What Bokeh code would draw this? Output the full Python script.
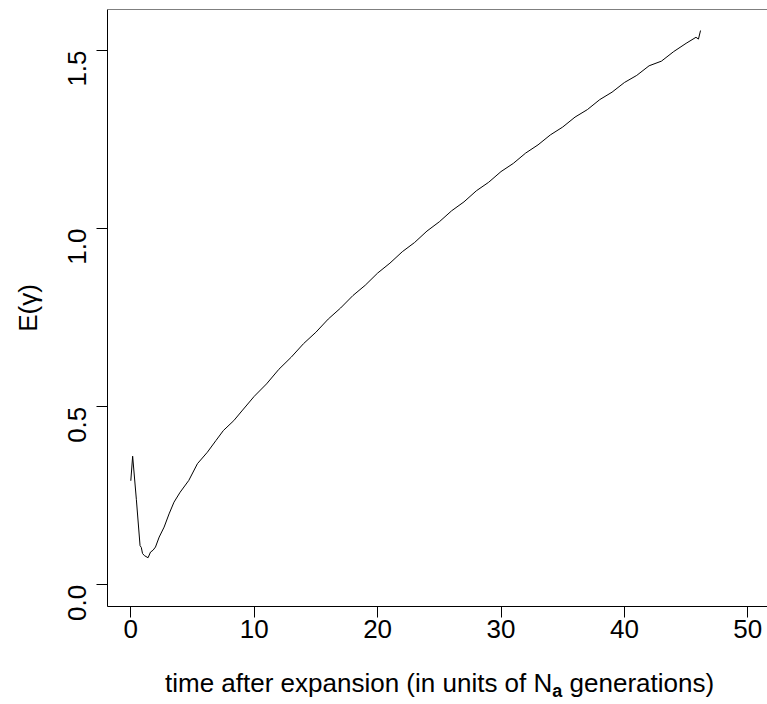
import math
from bokeh.plotting import figure
from bokeh.models import FixedTicker, Span, Range1d, Div
from bokeh.layouts import column
from bokeh.embed import file_html
from bokeh.resources import INLINE

# ---- data ----
time = [0.0, 0.15, 0.45, 0.75, 0.85, 0.95, 1.1, 1.4, 1.6, 1.8, 2.0, 2.3, 2.7, 3.1,
        3.5, 4.0, 4.7, 5.4, 6.2, 6.9, 7.5, 8.35, 9.0, 10.0, 11.0, 12.0, 13.0, 14.0,
        15.0, 16.0, 17.0, 18.0, 19.0, 20.0, 21.0, 22.0, 23.0, 24.0, 25.0, 26.0,
        27.0, 28.0, 29.0, 30.0, 31.0, 32.0, 33.0, 34.0, 35.0, 36.0, 37.0, 38.0,
        39.0, 40.0, 41.0, 42.0, 43.0, 44.0, 45.0, 45.8, 46.0, 46.17]
e_gamma = [0.292, 0.361, 0.240, 0.110, 0.105, 0.088, 0.082, 0.076, 0.092, 0.097,
           0.106, 0.134, 0.162, 0.199, 0.232, 0.260, 0.293, 0.340, 0.372, 0.405,
           0.433, 0.461, 0.488, 0.529, 0.564, 0.605, 0.639, 0.677, 0.709, 0.746,
           0.777, 0.812, 0.841, 0.875, 0.903, 0.935, 0.961, 0.993, 1.019, 1.050,
           1.075, 1.106, 1.130, 1.160, 1.183, 1.212, 1.235, 1.263, 1.285, 1.313,
           1.334, 1.362, 1.383, 1.410, 1.430, 1.457, 1.470, 1.497, 1.520, 1.537,
           1.532, 1.556]

x_ticks = [0, 10, 20, 30, 40, 50]
y_ticks = [0.0, 0.5, 1.0, 1.5]
y_tick_labels = ["0.0", "0.5", "1.0", "1.5"]

FONT = "Liberation Sans"
FS = "26px"

p = figure(width=767, height=660, output_backend="svg", toolbar_location=None,
           x_range=Range1d(-1.888, 51.596), y_range=Range1d(-0.0609, 1.615),
           min_border_left=107, min_border_right=0, min_border_top=9,
           min_border_bottom=54)
p.outline_line_color = None
p.background_fill_color = "white"
p.border_fill_color = "white"
p.grid.visible = False

p.line(time, e_gamma, line_color="black", line_width=1)

# top border of the box
p.add_layout(Span(location=1.615, dimension="width", line_color="black", line_width=1))

xa = p.xaxis[0]
xa.ticker = FixedTicker(ticks=x_ticks)
xa.major_tick_out = 11
xa.major_tick_in = 0
xa.minor_tick_line_color = None
xa.axis_line_color = "black"
xa.major_tick_line_color = "black"
xa.major_label_text_font = FONT
xa.major_label_text_font_size = FS
xa.major_label_text_color = "black"
xa.major_label_standoff = 2

ya = p.yaxis[0]
ya.ticker = FixedTicker(ticks=y_ticks)
ya.major_label_overrides = {t: s for t, s in zip(y_ticks, y_tick_labels)}
ya.major_tick_out = 11
ya.major_tick_in = 0
ya.minor_tick_line_color = None
ya.axis_line_color = "black"
ya.major_tick_line_color = "black"
ya.major_label_text_font = FONT
ya.major_label_text_font_size = FS
ya.major_label_text_color = "black"
ya.major_label_orientation = math.pi / 2
ya.major_label_standoff = 19
ya.axis_label = "E(\u03b3)"
ya.axis_label_text_font = FONT
ya.axis_label_text_font_size = FS
ya.axis_label_text_font_style = "normal"
ya.axis_label_text_color = "black"
ya.axis_label_standoff = 14

# x-axis title with bold subscript "a"
title = Div(
    text='time after expansion (in units of N<span style="font-size:18px;'
         'font-weight:bold;vertical-align:-5px;">a</span> generations)',
    width=767, height=44, margin=(0, 0, 0, 0),
    styles={"font-family": FONT, "font-size": FS, "line-height": "30px",
            "color": "black", "padding-left": "165px", "padding-top": "8px",
            "white-space": "nowrap", "background-color": "white",
            "box-sizing": "border-box"},
)

layout = column(p, title, spacing=0)

open("out.html", "w").write(file_html(layout, INLINE))
